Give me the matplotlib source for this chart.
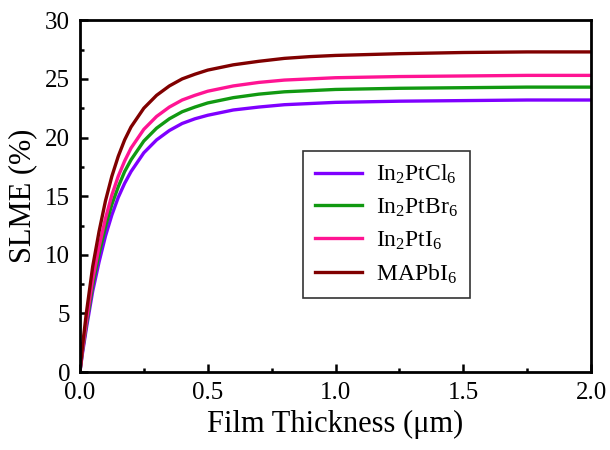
import matplotlib
matplotlib.use('Agg')
import matplotlib.pyplot as plt
import numpy as np

thickness = [0, 0.01, 0.025, 0.05, 0.075, 0.1, 0.125, 0.15, 0.175, 0.2, 0.25, 0.3, 0.35, 0.4, 0.45,
             0.5, 0.6, 0.7, 0.8, 0.9, 1.0, 1.25, 1.5, 1.75, 2.0]
slme_mapbi = [0, 2.2, 5.0, 9.0, 12.0, 14.6, 16.7, 18.4, 19.8, 20.9, 22.5, 23.6, 24.4, 25.0, 25.4,
              25.75, 26.2, 26.5, 26.75, 26.9, 27.0, 27.15, 27.25, 27.3, 27.3]
slme_i = [0, 1.9, 4.3, 7.9, 10.7, 13.1, 15.1, 16.7, 18.0, 19.1, 20.7, 21.8, 22.6, 23.2, 23.6,
          23.95, 24.4, 24.7, 24.9, 25.0, 25.1, 25.2, 25.25, 25.3, 25.3]
slme_br = [0, 1.8, 4.0, 7.4, 10.1, 12.4, 14.3, 15.8, 17.1, 18.1, 19.7, 20.8, 21.6, 22.2, 22.6,
           22.95, 23.4, 23.7, 23.9, 24.0, 24.1, 24.2, 24.25, 24.3, 24.3]
slme_cl = [0, 1.6, 3.7, 6.9, 9.4, 11.6, 13.4, 14.9, 16.1, 17.1, 18.7, 19.8, 20.6, 21.2, 21.6,
           21.9, 22.35, 22.6, 22.8, 22.9, 23.0, 23.1, 23.15, 23.2, 23.2]

series = [
    (slme_cl, '#7f00ff', r'In$_2$PtCl$_6$'),
    (slme_br, '#119911', r'In$_2$PtBr$_6$'),
    (slme_i, '#ff1493', r'In$_2$PtI$_6$'),
    (slme_mapbi, '#800000', r'MAPbI$_6$'),
]

plt.rcParams['font.family'] = ['Liberation Serif', 'DejaVu Serif']
plt.rcParams['mathtext.fontset'] = 'custom'
plt.rcParams['mathtext.rm'] = 'Liberation Serif'
plt.rcParams['mathtext.it'] = 'Liberation Serif'

fig = plt.figure(figsize=(6.1, 4.5), dpi=100)
ax = fig.add_axes([0.131, 0.173, 0.838, 0.782])
for ys, c, lab in series:
    ax.plot(thickness, ys, color=c, lw=2.4, label=lab)

ax.set_xlim(0, 2.0)
ax.set_ylim(0, 30)
ax.set_xticks([0, 0.5, 1.0, 1.5, 2.0])
ax.set_xticks(np.arange(0.25, 2.0, 0.5), minor=True)
ax.set_yticks(range(0, 31, 5))
ax.set_yticks(np.arange(2.5, 30, 5), minor=True)
ax.tick_params(which='both', direction='in', width=1.8, labelsize=18, pad=7)
ax.tick_params(which='major', length=6)
ax.tick_params(which='minor', length=3)
for s in ax.spines.values():
    s.set_linewidth(2)
ax.set_xlabel('Film Thickness (μm)', fontsize=22, labelpad=4)
ax.set_ylabel('SLME (%)', fontsize=22, labelpad=6)
ax.legend(loc='center', bbox_to_anchor=(0.6, 0.42), fontsize=17, frameon=True,
          fancybox=False, edgecolor='black', handlelength=2.0, borderpad=0.5,
          labelspacing=0.45, handletextpad=0.6).get_frame().set_linewidth(1.2)

fig.savefig('out.png')
